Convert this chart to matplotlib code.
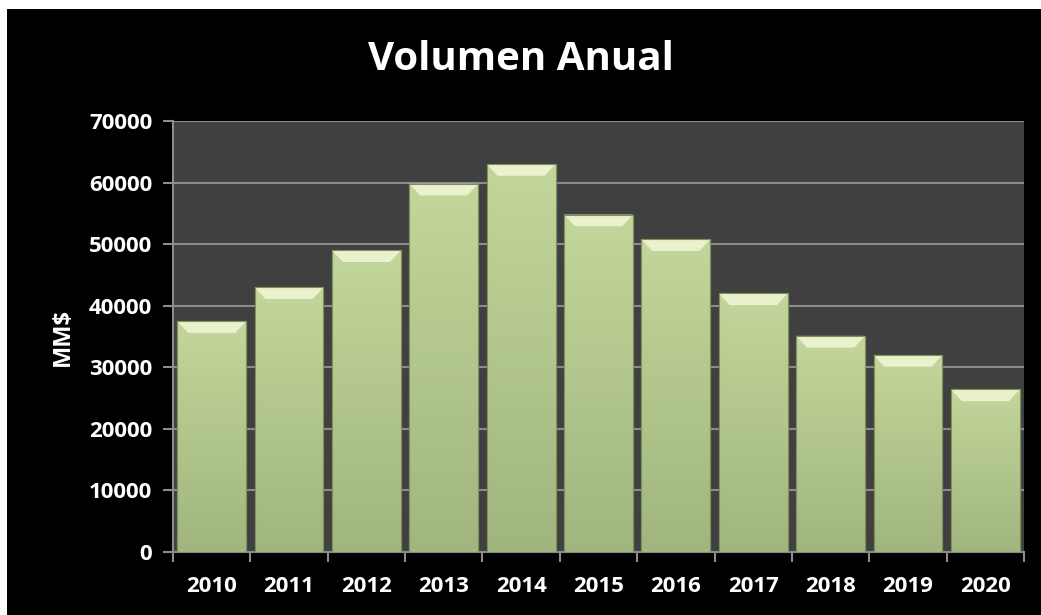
import numpy as np
import matplotlib
matplotlib.use("Agg")
import matplotlib.pyplot as plt
from matplotlib.patches import Rectangle, Polygon
from matplotlib.colors import LinearSegmentedColormap

years = ["2010", "2011", "2012", "2013", "2014", "2015", "2016", "2017", "2018", "2019", "2020"]
volumen = [37500, 43000, 49000, 59800, 63000, 54800, 50800, 42000, 35100, 32000, 26400]

plt.rcParams['font.family'] = ['Open Sans', 'DejaVu Sans']

fig = plt.figure(figsize=(10.41, 6.15), dpi=100)
fig.patch.set_facecolor("white")
# fondo negro con un borde blanco fino arriba y a la izquierda
fig.patches.append(Rectangle((7 / 1041, 0), 1, 1 - 9 / 615, transform=fig.transFigure,
                             facecolor="black", edgecolor="none", zorder=-10))

ax = fig.add_axes([173 / 1041, 63 / 615, 851 / 1041, 431 / 615])
ax.set_facecolor("#404040")

x = np.arange(len(years))
w = 0.89
bars = ax.bar(x, volumen, width=w, color="#c3d69b", edgecolor="#7f8f5a", linewidth=0.8, zorder=3)

# degradado vertical y bisel superior de cada barra
grad = np.linspace(0, 1, 256).reshape(-1, 1)
cmap = LinearSegmentedColormap.from_list("verde", ["#a0b67e", "#c3d69b"])
bev_h = 1900
bev_w = 0.14
for b in bars:
    x0, h, bw = b.get_x(), b.get_height(), b.get_width()
    im = ax.imshow(grad, extent=(x0, x0 + bw, 0, h), origin="lower", cmap=cmap,
                   aspect="auto", zorder=3.5)
    im.set_clip_path(b)
    top = Polygon([(x0, h), (x0 + bw, h), (x0 + bw - bev_w, h - bev_h), (x0 + bev_w, h - bev_h)],
                  closed=True, facecolor="#e9f2cc", edgecolor="none", zorder=4)
    ax.add_patch(top)
    ax.add_patch(Rectangle((x0, 0), bw, h, facecolor="none", edgecolor="#7f8f5a",
                           linewidth=0.8, zorder=5))

ax.set_xlim(-0.5, len(years) - 0.5)
ax.set_ylim(0, 70000)
ax.set_yticks(range(0, 70001, 10000))
ax.yaxis.grid(True, color="#8c8c8c", linewidth=1.5, zorder=1)
ax.set_axisbelow(True)

ax.set_xticks(x)
ax.set_xticklabels(years)
ax.set_xticks(np.arange(-0.5, len(years)), minor=True)
ax.tick_params(axis="x", which="major", length=0, pad=17, labelsize=16, colors="white")
ax.tick_params(axis="x", which="minor", length=7, width=1.5, color="#8c8c8c")
ax.tick_params(axis="y", length=7, width=1.5, color="#8c8c8c", labelsize=16, labelcolor="white", pad=8)
for lab in ax.get_xticklabels() + ax.get_yticklabels():
    lab.set_fontweight("bold")

for s in ["top", "right"]:
    ax.spines[s].set_visible(False)
for s in ["left", "bottom"]:
    ax.spines[s].set_color("#8c8c8c")
    ax.spines[s].set_linewidth(1.5)

ax.set_ylabel("MM$", color="white", fontsize=17, fontweight="bold", labelpad=10)
fig.text(0.5, 0.903, "Volumen Anual", color="white", fontsize=29, fontweight="bold",
         ha="center", va="center")

fig.savefig("out.png", dpi=100, facecolor=fig.get_facecolor())
